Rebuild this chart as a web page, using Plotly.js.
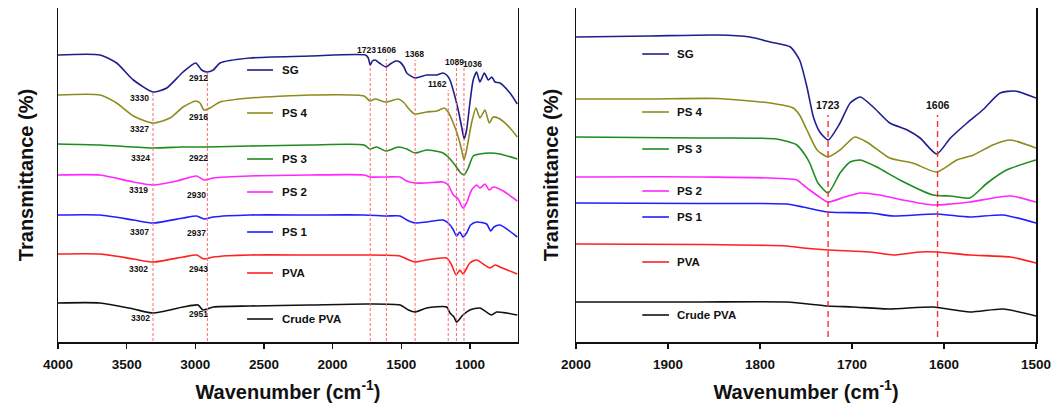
<!DOCTYPE html>
<html>
<head>
<meta charset="utf-8">
<script src="https://cdn.plot.ly/plotly-3.0.1.min.js"></script>
<style>html,body{margin:0;padding:0;background:#fff}#chart{width:1054px;height:410px}</style>
</head>
<body>
<div id="chart"></div>
<script>
// ---------- DATA (transmittance in arbitrary offset units) ----------
const seriesNames = ["SG", "PS 4", "PS 3", "PS 2", "PS 1", "PVA", "Crude PVA"];

// Left panel: 4000-650 cm-1
const leftWnSG = [4000,3694,3573,3451,3308,3208,3089,2997,2954,2917,2869,2820,2602,2165,1760,1740,1726,1710,1690,1660,1611,1580,1540,1510,1480,1460,1400,1315,1242,1196,1169,1145,1116,1085,1060,1041,1024,1000,976,951,927,895,866,841,817,781,708,655];
const leftTSG  = [287,287,279,262,250,254,270,279,272,270,272,279,284,286,287,284,277,281,282,279,275,278,281,280,275,269,264,267,267,269,267,262,249,232,215,203,212,239,262,270,260,269,262,265,260,259,249,238];

const leftWnPS4 = [4000,3694,3573,3451,3308,3184,3089,2997,2966,2937,2893,2820,2602,2165,1771,1728,1691,1611,1522,1485,1437,1400,1315,1242,1187,1158,1121,1085,1060,1043,1024,988,956,927,890,859,830,781,708,655];
const leftTPS4  = [247,247,239,226,219,224,235,241,239,232,234,240,244,247,246,241,243,240,243,240,232,228,230,231,234,230,219,205,192,182,192,219,234,224,232,219,225,223,214,205];

const leftWnPS3 = [4000,3694,3308,3089,2917,2602,2165,1771,1728,1679,1611,1522,1460,1400,1315,1196,1158,1109,1073,1043,1012,976,927,854,781,655];
const leftTPS3  = [198,197,194,195,195,196,197,197,193,195,191,195,193,189,192,189,185,177,170,167,174,186,188,189,188,183];

const leftWnPS2 = [4000,3694,3451,3308,3136,2990,2937,2869,2602,2165,1771,1728,1611,1509,1460,1400,1315,1196,1158,1121,1085,1051,1024,988,951,927,890,859,830,757,655];
const leftTPS2  = [167,167,160,157,161,166,162,164,166,167,167,165,165,165,161,159,159,160,157,147,143,134,139,152,157,154,158,152,155,151,141];

const leftWnPS1 = [4000,3694,3451,3308,3089,2990,2937,2869,2602,2165,1771,1611,1509,1460,1400,1315,1196,1158,1124,1097,1073,1051,1024,995,951,878,849,825,781,655];
const leftTPS1  = [127,127,122,119,124,126,123,125,127,127,127,126,126,122,119,120,122,119,113,106,110,105,109,117,120,118,111,115,117,105];

const leftWnPVA = [4000,3694,3451,3308,3089,2990,2937,2869,2602,2165,1771,1509,1460,1400,1315,1169,1133,1100,1073,1051,1000,951,854,817,781,655];
const leftTPVA  = [88,88,83,80,85,87,83,85,87,87,87,86,83,80,82,84,77,67,72,68,79,82,74,77,75,68];

const leftWnCrude = [4000,3694,3451,3308,3089,2980,2945,2869,2602,2165,1747,1509,1448,1400,1315,1169,1145,1116,1097,1051,1000,927,842,805,732,655];
const leftTCrude  = [39,39,33,29,35,37,32,35,36,37,38,37,32,30,34,35,29,25,20,27,32,34,27,30,29,27];

// Right panel: 2000-1500 cm-1
const rightWnSG = [2000,1920,1847,1811,1789,1767,1757,1749,1742,1735,1726,1713,1702,1691,1677,1659,1640,1626,1608,1593,1575,1558,1539,1523,1500];
const rightTSG  = [305,306,307,305,300,295,282,255,225,210,202,219,239,245,235,219,212,204,188,204,219,232,249,251,244];

const rightWnPS4 = [2000,1920,1847,1789,1764,1757,1749,1738,1726,1713,1697,1684,1659,1634,1608,1586,1568,1547,1528,1500];
const rightTPS4  = [243,243,243.5,239,234,227,212,192,185,192,205,200,184,179,170,182,187,197,202,194];

const rightWnPS3 = [2000,1865,1782,1760,1751,1746,1737,1726,1713,1702,1691,1673,1648,1612,1593,1572,1553,1532,1500];
const rightTPS3  = [205,204,203,197,187,179,159,149,169,180,182,175,162,147,146,144,159,172,182];

const rightWnPS2 = [2000,1865,1760,1753,1746,1737,1726,1708,1691,1670,1645,1612,1593,1572,1528,1500];
const rightTPS2  = [165,165,162,157,152,146,140,145,149,147,142,137,138,140,146,140];

const rightWnPS1 = [2000,1865,1771,1753,1726,1680,1655,1608,1572,1536,1500];
const rightTPS1  = [139,138.5,138,135,130,129,126,128,125,127,119];

const rightWnPVA = [2000,1865,1771,1753,1726,1680,1655,1626,1608,1572,1528,1500];
const rightTPVA  = [98,97.5,96,94,92,90,87,90,90,87,85,79];

const rightWnCrude = [2000,1865,1771,1726,1699,1659,1612,1572,1536,1500];
const rightTCrude  = [40,40,40,36,35,33,35,30,33,26];

// Peak markers (dashed lines) and peak labels
const leftPeakLines = [3308,2912,1726,1608,1399,1158,1098,1043];
const leftPeakLineTop = [250,269,277,283,282,252,277,274];
const leftPeakLabels = ["3330","2912","3327","2916","3324","2922","3319","2930","3307","2937","3302","2943","3302","2951","1723","1606","1368","1089","1036","1162"];
const leftPeakLabelWn = [3403,2980,3403,2980,3396,2980,3417,2988,3410,2988,3417,2980,3396,2980,1750,1611,1400,1109,978,1233];
const leftPeakLabelT  = [244,264,213,225,184,184,152,147,110,109,73,73,24,28,292,292,288,280,278,258];

const rightPeakLines = [1726,1607];
const rightPeakLabels = ["1723","1606"];

const leftTicks = [4000,3500,3000,2500,2000,1500,1000];
const rightTicks = [2000,1900,1800,1700,1600,1500];

// ---------- STYLE ----------
const colors = ["#1f1f8c","#8c8c1e","#1e8c1e","#ff26ff","#1f1fff","#ff2020","#111111"];
const FONT = "Liberation Sans, Arial, Helvetica, sans-serif";

const leftX = [leftWnSG,leftWnPS4,leftWnPS3,leftWnPS2,leftWnPS1,leftWnPVA,leftWnCrude];
const leftY = [leftTSG,leftTPS4,leftTPS3,leftTPS2,leftTPS1,leftTPVA,leftTCrude];
const rightX = [rightWnSG,rightWnPS4,rightWnPS3,rightWnPS2,rightWnPS1,rightWnPVA,rightWnCrude];
const rightY = [rightTSG,rightTPS4,rightTPS3,rightTPS2,rightTPS1,rightTPVA,rightTCrude];

// legend positions (layout only)
const leftLegT = [272,229,183,150,110,69,23];
const rightLegT = [288,230,193,151,125,80,27];

const traces = [];
seriesNames.forEach((n,i)=>{
  traces.push({x:leftX[i], y:leftY[i], xaxis:'x', yaxis:'y', type:'scatter', mode:'lines', name:n,
    line:{color:colors[i], width:1.6, shape:'spline', smoothing:0.6}, showlegend:false, hoverinfo:'skip'});
  traces.push({x:rightX[i], y:rightY[i], xaxis:'x2', yaxis:'y2', type:'scatter', mode:'lines', name:n,
    line:{color:colors[i], width:1.6, shape:'spline', smoothing:0.6}, showlegend:false, hoverinfo:'skip'});
});
// empty traces so that the label-carrying overlay axes are drawn
traces.push({x:[], y:[], xaxis:'x3', yaxis:'y', type:'scatter', mode:'lines', showlegend:false, hoverinfo:'skip'});
traces.push({x:[], y:[], xaxis:'x4', yaxis:'y2', type:'scatter', mode:'lines', showlegend:false, hoverinfo:'skip'});

const shapes = [];
const annotations = [];
leftPeakLines.forEach((w,i)=>{
  shapes.push({type:'line', xref:'x', yref:'y', x0:w, x1:w, y0:1, y1:leftPeakLineTop[i],
    line:{color:'#ff6a6a', width:1, dash:'3px,2px'}});
});
rightPeakLines.forEach((w)=>{
  shapes.push({type:'line', xref:'x2', yref:'y2', x0:w, x1:w, y0:5, y1:227,
    line:{color:'#ff2a2a', width:1.4, dash:'6px,4px'}});
});
leftPeakLabels.forEach((t,i)=>{
  annotations.push({xref:'x', yref:'y', x:leftPeakLabelWn[i], y:leftPeakLabelT[i], text:t, showarrow:false,
    font:{family:FONT, size:8.5, color:'#111', weight:'bold'}});
});
rightPeakLabels.forEach((t,i)=>{
  annotations.push({xref:'x2', yref:'y2', x:rightPeakLines[i], y:237, text:t, showarrow:false,
    font:{family:FONT, size:10.5, color:'#111', weight:'bold'}});
});
seriesNames.forEach((n,i)=>{
  shapes.push({type:'line', xref:'x', yref:'y', x0:2623, x1:2434, y0:leftLegT[i], y1:leftLegT[i], line:{color:colors[i], width:1.6}});
  annotations.push({xref:'x', yref:'y', x:2383, y:leftLegT[i], xanchor:'left', text:n, showarrow:false,
    font:{family:FONT, size:11.5, color:'#111', weight:'bold'}});
  shapes.push({type:'line', xref:'x2', yref:'y2', x0:1928, x1:1899, y0:rightLegT[i], y1:rightLegT[i], line:{color:colors[i], width:1.6}});
  annotations.push({xref:'x2', yref:'y2', x:1892, y:rightLegT[i], xanchor:'left', text:n, showarrow:false,
    font:{family:FONT, size:11.5, color:'#111', weight:'bold'}});
});

const xTitle = {text:'Wavenumber (cm<sup>-1</sup>)', font:{family:FONT, size:20, color:'#111', weight:'bold'}, standoff:13};
const yTitle = (s)=>({text:'Transmittance (%)', font:{family:FONT, size:20, color:'#111', weight:'bold'}, standoff:s});
const tickFont = {family:FONT, size:13.5, color:'#111', weight:'bold'};

// visible tick marks (no labels)
const markAxis = (dom, rng, vals, anchor)=>({domain:dom, range:rng, tickmode:'array', tickvals:vals, ticks:'outside', ticklen:5, tickwidth:1.5, tickcolor:'#111',
  showticklabels:false, showline:true, linecolor:'#111', linewidth:1.5, mirror:false, showgrid:false, zeroline:false, anchor:anchor});
// overlay axis carrying the tick labels and title, with transparent longer ticks to set label distance
const labelAxis = (base, rng, vals, anchor)=>({overlaying:base, anchor:anchor, side:'bottom', range:rng, tickmode:'array', tickvals:vals, ticktext:vals.map(String),
  ticks:'outside', ticklen:10, tickwidth:1, tickcolor:'rgba(0,0,0,0)', showline:false, showgrid:false, zeroline:false, tickfont:tickFont, title:xTitle});

const layout = {
  width:1054, height:410,
  margin:{l:58, r:18, t:8, b:68},
  paper_bgcolor:'#fff', plot_bgcolor:'#fff',
  showlegend:false,
  font:{family:FONT},
  xaxis: markAxis([0,0.4703], [4000,650], leftTicks, 'y'),
  xaxis2: markAxis([0.5297,1], [2000,1500], rightTicks, 'y2'),
  xaxis3: labelAxis('x', [4000,650], leftTicks, 'y'),
  xaxis4: labelAxis('x2', [2000,1500], rightTicks, 'y2'),
  yaxis:{domain:[0,1], range:[0,334], showticklabels:false, ticks:'', showline:true, linecolor:'#111', linewidth:1.5, mirror:true,
    showgrid:false, zeroline:false, title:yTitle(17), anchor:'x'},
  yaxis2:{domain:[0,1], range:[0,334], showticklabels:false, ticks:'', showline:true, linecolor:'#111', linewidth:1.5, mirror:true,
    showgrid:false, zeroline:false, title:yTitle(10), anchor:'x2'},
  shapes:shapes,
  annotations:annotations
};

Plotly.newPlot('chart', traces, layout, {staticPlot:true, displayModeBar:false});
</script>
</body>
</html>
